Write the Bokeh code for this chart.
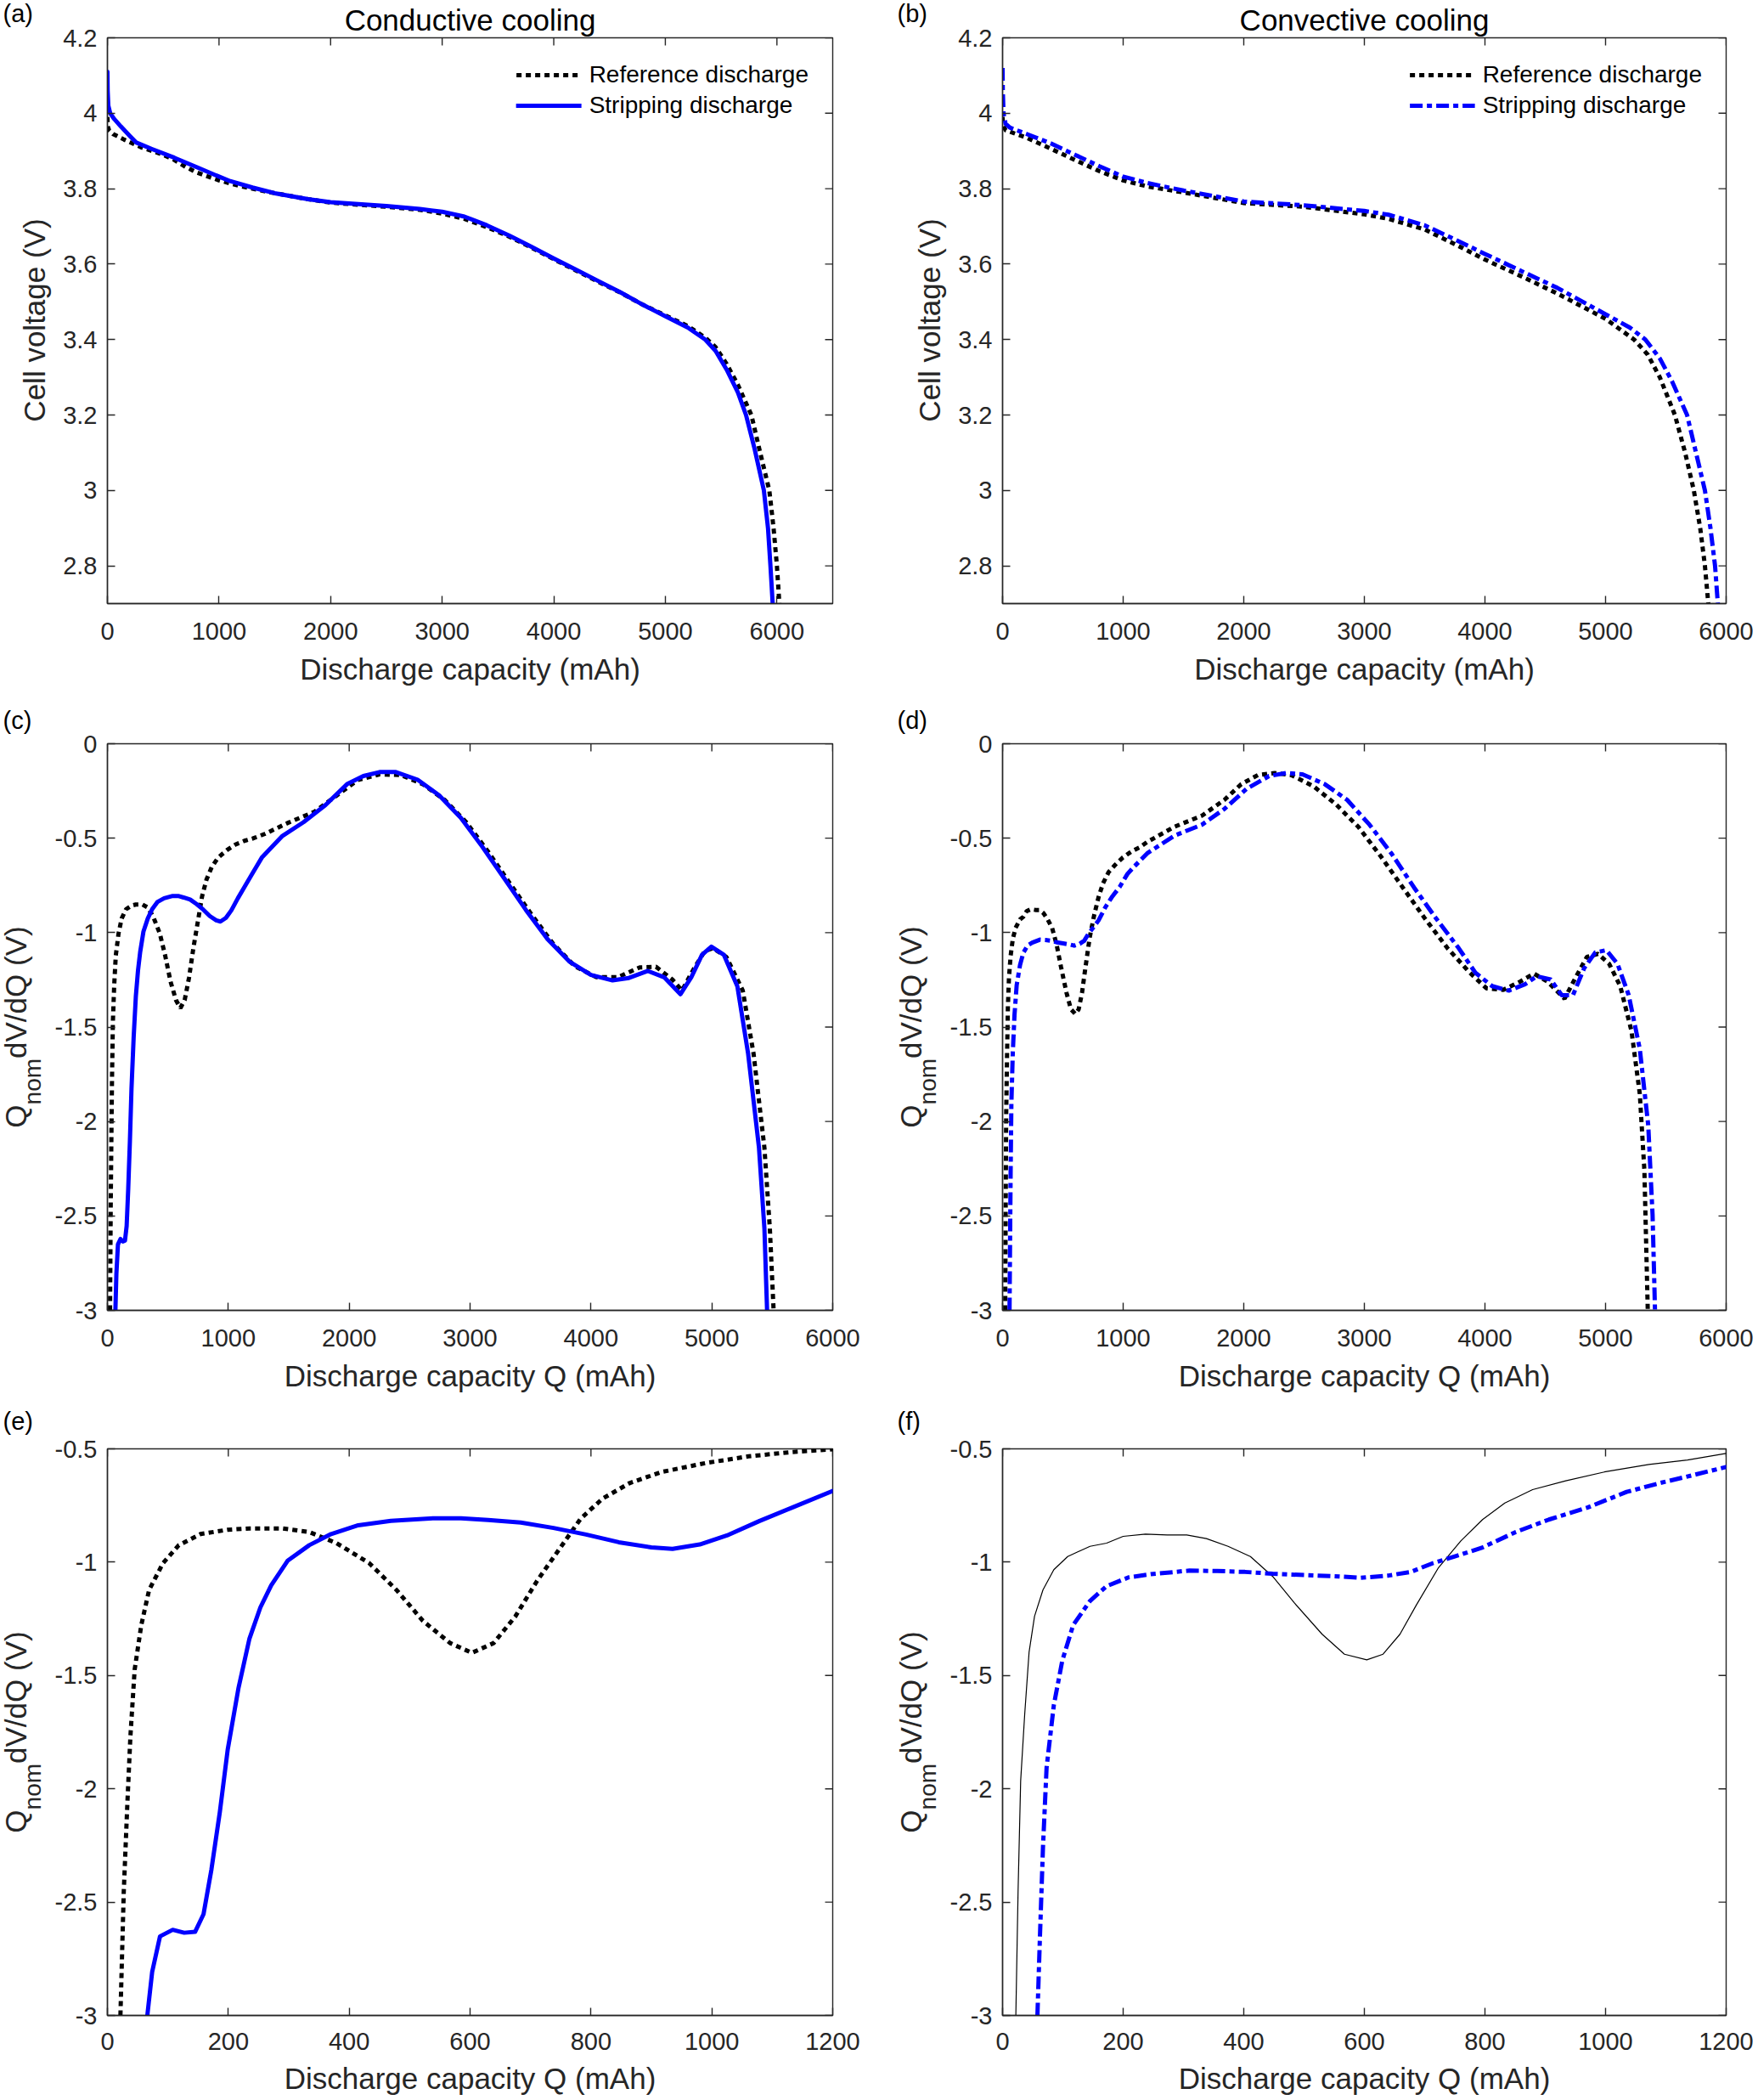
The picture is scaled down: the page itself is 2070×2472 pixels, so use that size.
import numpy as np
from bokeh.plotting import figure
from bokeh.models import Range1d, LinearAxis, FixedTicker, Legend, LegendItem, Title
from bokeh.layouts import column, row
from bokeh.core.properties import value
from bokeh.embed import file_html
from bokeh.resources import INLINE

# ---------------- data ----------------
# (a) conductive cooling, cell voltage vs discharge capacity
a_ref_q = [0, 3, 15, 50, 150, 300, 500, 600, 700, 800, 1000, 1200, 1500, 1800, 2000, 2500, 2800, 3000,
           3200, 3400, 3600, 3800, 4000, 4200, 4400, 4600, 4800, 5000, 5200, 5358, 5450, 5550, 5650, 5771,
           5850, 5932, 5970, 6000, 6022]
a_ref_v = [3.99, 3.965, 3.955, 3.945, 3.93, 3.91, 3.89, 3.876, 3.858, 3.843, 3.822, 3.806, 3.788, 3.772,
           3.763, 3.752, 3.744, 3.734, 3.72, 3.698, 3.673, 3.644, 3.613, 3.583, 3.553, 3.524, 3.492, 3.464,
           3.436, 3.405, 3.38, 3.335, 3.28, 3.2, 3.1, 3.0, 2.9, 2.8, 2.70]
a_str_q = [0, 2, 8, 25, 60, 120, 200, 260, 400, 600, 800, 1000, 1100, 1300, 1500, 1800, 2000, 2500, 2800,
           3000, 3200, 3400, 3600, 3800, 4000, 4200, 4400, 4600, 4800, 5000, 5200, 5358, 5450, 5550, 5650,
           5723, 5800, 5883, 5920, 5942, 5962]
a_str_v = [4.11, 4.06, 4.02, 4.0, 3.985, 3.965, 3.94, 3.922, 3.905, 3.882, 3.857, 3.832, 3.82, 3.803, 3.788,
           3.772, 3.764, 3.754, 3.746, 3.739, 3.726, 3.703, 3.676, 3.646, 3.615, 3.585, 3.555, 3.525, 3.492,
           3.462, 3.432, 3.40, 3.37, 3.32, 3.26, 3.2, 3.11, 3.0, 2.9, 2.8, 2.70]

# (b) convective cooling, cell voltage vs discharge capacity
b_ref_q = [0, 3, 25, 200, 400, 600, 800, 1000, 1200, 1500, 2000, 2500, 3000, 3200, 3500, 3800, 4000, 4300,
           4600, 5000, 5237, 5350, 5450, 5575, 5660, 5732, 5785, 5824, 5852]
b_ref_v = [3.99, 3.97, 3.955, 3.935, 3.906, 3.876, 3.847, 3.822, 3.806, 3.79, 3.762, 3.752, 3.732, 3.72,
           3.692, 3.645, 3.612, 3.568, 3.522, 3.455, 3.40, 3.36, 3.30, 3.2, 3.1, 3.0, 2.9, 2.8, 2.70]
b_str_q = [0, 2, 8, 25, 60, 200, 400, 600, 800, 1000, 1200, 1500, 2000, 2500, 3000, 3200, 3500, 3800, 4000,
           4300, 4600, 5000, 5200, 5330, 5450, 5550, 5676, 5750, 5824, 5870, 5908, 5931]
b_str_v = [4.12, 4.06, 4.0, 3.972, 3.962, 3.945, 3.92, 3.89, 3.86, 3.832, 3.815, 3.795, 3.766, 3.756, 3.741,
           3.731, 3.703, 3.658, 3.627, 3.582, 3.537, 3.467, 3.432, 3.40, 3.35, 3.29, 3.2, 3.1, 3.0, 2.9, 2.8,
           2.70]

# (c)/(e) conductive cooling, Q_nom dV/dQ vs discharge capacity
cond_ref_q = [21.5, 27, 33, 38, 45, 56, 69, 92, 118, 154, 199, 235, 289, 334, 379, 433, 478, 522, 567, 603,
              639, 675, 711, 747, 783, 819, 864, 917, 989, 1061, 1133, 1200, 1300, 1489, 1713, 1892, 2072,
              2251, 2430, 2610, 2789, 2969, 3148, 3327, 3507, 3686, 3865, 4045, 4224, 4404, 4538, 4673, 4753,
              4852, 4942, 5009, 5121, 5256, 5345, 5435, 5480, 5511]
cond_ref_d = [-3.0, -2.455, -2.063, -1.769, -1.475, -1.278, -1.122, -1.004, -0.925, -0.876, -0.857, -0.851,
              -0.851, -0.867, -0.916, -1.004, -1.122, -1.259, -1.357, -1.40, -1.357, -1.239, -1.082, -0.945,
              -0.808, -0.72, -0.651, -0.602, -0.563, -0.533, -0.514, -0.502, -0.478, -0.42, -0.36, -0.276,
              -0.192, -0.162, -0.166, -0.214, -0.297, -0.416, -0.57, -0.737, -0.903, -1.058, -1.177, -1.236,
              -1.236, -1.184, -1.181, -1.248, -1.307, -1.19, -1.098, -1.082, -1.129, -1.307, -1.64, -2.139,
              -2.567, -3.0]
cond_str_q = [66, 74, 87, 108, 127, 145, 159, 172, 186, 199, 217, 235, 253, 271, 298, 334, 370, 415, 469, 540,
              585, 630, 684, 738, 792, 846, 900, 935, 980, 1025, 1079, 1133, 1200, 1280, 1444, 1623, 1803,
              1982, 2117, 2251, 2386, 2565, 2744, 2924, 3103, 3283, 3462, 3641, 3821, 4000, 4179, 4314, 4471,
              4605, 4740, 4830, 4919, 4996, 5099, 5211, 5300, 5390, 5435, 5457]
cond_str_d = [-3.0, -2.808, -2.651, -2.622, -2.635, -2.631, -2.553, -2.357, -2.102, -1.827, -1.553, -1.337,
              -1.2, -1.102, -0.994, -0.925, -0.876, -0.837, -0.818, -0.806, -0.806, -0.814, -0.825, -0.849,
              -0.878, -0.912, -0.935, -0.941, -0.922, -0.882, -0.818, -0.759, -0.686, -0.6, -0.49, -0.415,
              -0.325, -0.214, -0.171, -0.15, -0.15, -0.19, -0.273, -0.392, -0.547, -0.713, -0.88, -1.034,
              -1.153, -1.224, -1.253, -1.24, -1.203, -1.236, -1.326, -1.236, -1.117, -1.074, -1.117, -1.284,
              -1.64, -2.139, -2.567, -3.0]

# (d)/(f) convective cooling, Q_nom dV/dQ vs discharge capacity
conv_ref_q = [22, 25.7, 30, 36.7, 44, 53, 67, 85, 108, 145, 172.5, 200, 237, 273, 305.5, 338, 374, 411, 448,
              484, 530, 567, 604, 631, 659, 686, 723, 760, 796, 833, 879, 934, 998, 1072, 1136, 1200, 1424,
              1655, 1840, 1979, 2117, 2256, 2395, 2580, 2765, 2950, 3135, 3319, 3504, 3689, 3874, 4013, 4152,
              4290, 4406, 4521, 4660, 4753, 4845, 4938, 5030, 5122, 5215, 5284, 5322, 5350]
conv_ref_d = [-3.0, -2.455, -1.965, -1.671, -1.396, -1.239, -1.122, -1.033, -0.975, -0.93, -0.916, -0.886,
              -0.876, -0.88, -0.88, -0.896, -0.93, -0.975, -1.063, -1.18, -1.318, -1.406, -1.431, -1.406,
              -1.318, -1.19, -1.024, -0.906, -0.812, -0.739, -0.68, -0.641, -0.602, -0.569, -0.549, -0.52,
              -0.44, -0.38, -0.297, -0.214, -0.166, -0.155, -0.166, -0.226, -0.321, -0.44, -0.595, -0.761,
              -0.927, -1.082, -1.212, -1.295, -1.303, -1.26, -1.217, -1.26, -1.35, -1.236, -1.129, -1.112,
              -1.165, -1.284, -1.521, -1.854, -2.258, -3.0]
conv_str_q = [57.8, 62, 67, 73, 85, 99, 117, 145, 172.5, 209, 246, 310, 356, 402, 448, 503, 558, 594, 640, 677,
              714, 750, 796, 851, 906, 970, 1035, 1090, 1145, 1200, 1424, 1655, 1840, 2025, 2210, 2349, 2487,
              2672, 2857, 3042, 3227, 3412, 3597, 3782, 3920, 4059, 4198, 4336, 4429, 4544, 4637, 4730, 4822,
              4915, 5007, 5099, 5192, 5284, 5354, 5390, 5410]
conv_str_d = [-3.0, -2.651, -2.259, -1.906, -1.631, -1.435, -1.278, -1.171, -1.106, -1.067, -1.053, -1.037,
              -1.039, -1.043, -1.051, -1.057, -1.063, -1.069, -1.059, -1.043, -1.004, -0.975, -0.935, -0.867,
              -0.812, -0.759, -0.69, -0.651, -0.616, -0.58, -0.487, -0.428, -0.345, -0.238, -0.171, -0.155,
              -0.162, -0.214, -0.297, -0.428, -0.583, -0.761, -0.927, -1.082, -1.212, -1.283, -1.307, -1.272,
              -1.231, -1.248, -1.331, -1.331, -1.189, -1.105, -1.093, -1.165, -1.331, -1.616, -2.02, -2.496,
              -3.0]

# ticks and texts
volt_ticks = [2.8, 3.0, 3.2, 3.4, 3.6, 3.8, 4.0, 4.2]
cap_ticks = [0, 1000, 2000, 3000, 4000, 5000, 6000]
dvdq_ticks = [-3.0, -2.5, -2.0, -1.5, -1.0, -0.5, 0.0]
zoom_cap_ticks = [0, 200, 400, 600, 800, 1000, 1200]
zoom_dvdq_ticks = [-3.0, -2.5, -2.0, -1.5, -1.0, -0.5]

titles = ["Conductive cooling", "Convective cooling"]
letters = [["(a)", "(b)"], ["(c)", "(d)"], ["(e)", "(f)"]]
legend_labels = ["Reference discharge", "Stripping discharge"]
xlabel_v = "Discharge capacity (mAh)"
xlabel_d = "Discharge capacity Q (mAh)"
ylabel_v = "Cell voltage (V)"
ylabel_d_parts = ["Q", "nom", "dV/dQ (V)"]

# ---------------- style / geometry ----------------
FONT = "Liberation Sans"
AX = "#262626"
BLUE = "#0000ff"
TICK_PX = 29
LABEL_PX = 35
SUB_PX = 28
LETTER_PX = 29
COL_W = 1035
FRAME_H = 667
ROW_H = [832, 820, 820]
FRAME_TOP = [43, 43, 53]       # top of the axes box inside each row
FRAME_L = [126, 1180]          # absolute left edge of the axes box per column
FRAME_W = [854, 852]
PLOT_LEFT = [62, 68, 68]       # room for y tick labels inside each plot, per row
LETTER_DX = [-123, -124]       # letter start, relative to the box's left edge
LETTER_DY = [28, 28, 33]       # letter centre above the box top, per row
MID = 0.36                     # distance of the text mid-line above the baseline, in em


def fmt(v):
    return f"{v:g}"


def style_axis(ax, ticks):
    ax.ticker = FixedTicker(ticks=ticks)
    ax.major_label_overrides = {t: fmt(t) for t in ticks}
    ax.axis_line_color = AX
    ax.axis_line_width = 1.4
    ax.major_tick_line_color = AX
    ax.major_tick_line_width = 1.4
    ax.major_tick_in = 9
    ax.major_tick_out = 0
    ax.minor_tick_line_color = None
    ax.major_label_text_font = FONT
    ax.major_label_text_color = AX
    ax.major_label_text_font_size = f"{TICK_PX}px"


def strip_width(r, c):
    return FRAME_L[c] - c * COL_W - PLOT_LEFT[r]


def make_panel(r, c, xr, yr, xticks, yticks, xlabel):
    height = ROW_H[r]
    width = COL_W - strip_width(r, c)
    left = PLOT_LEFT[r]
    right = width - left - FRAME_W[c]
    p = figure(width=width, height=height, x_range=Range1d(*xr), y_range=Range1d(*yr),
               output_backend="svg", toolbar_location=None, frame_align=False,
               x_axis_location=None, y_axis_location=None,
               min_border_left=left, min_border_right=right,
               min_border_top=FRAME_TOP[r], min_border_bottom=height - FRAME_TOP[r] - FRAME_H)
    p.grid.visible = False
    p.outline_line_color = AX
    p.outline_line_width = 1.4

    bottom = LinearAxis()
    style_axis(bottom, xticks)
    bottom.major_label_standoff = 22 if r < 2 else 20
    bottom.axis_label = xlabel
    bottom.axis_label_text_font = FONT
    bottom.axis_label_text_font_size = f"{LABEL_PX}px"
    bottom.axis_label_text_font_style = "normal"
    bottom.axis_label_text_color = AX
    bottom.axis_label_standoff = 12 if r < 2 else 11
    p.add_layout(bottom, "below")

    leftax = LinearAxis()
    style_axis(leftax, yticks)
    leftax.major_label_standoff = 12
    p.add_layout(leftax, "left")

    # inward ticks mirrored on the top and right edges of the box
    p.ray(x=xticks, y=[yr[1]] * len(xticks), length=9, length_units="screen", angle=-np.pi / 2,
          line_color=AX, line_width=1.4)
    p.ray(x=[xr[1]] * len(yticks), y=yticks, length=9, length_units="screen", angle=np.pi,
          line_color=AX, line_width=1.4)

    if r == 0:
        p.add_layout(Title(text=titles[c], align="center", text_font=FONT, text_font_size=f"{LABEL_PX}px",
                           text_font_style="normal", text_color="black", standoff=3), "above")
    return p


def vtext(s, x_base, y, txt, size, align):
    """Vertical text reading bottom to top; x_base is the baseline position."""
    s.text(x=[x_base - MID * size], y=[y], text=[txt], angle=np.pi / 2, text_font=value(FONT),
           text_font_size=value(f"{size}px"), text_color=AX,
           text_align=value(align), text_baseline=value("middle"))


def side_strip(r, c):
    """Narrow canvas left of each panel holding the panel letter and the y label."""
    width = strip_width(r, c)
    height = ROW_H[r]
    s = figure(width=width, height=height, x_range=Range1d(0, width), y_range=Range1d(0, height),
               output_backend="svg", toolbar_location=None, frame_align=False,
               x_axis_location=None, y_axis_location=None,
               min_border=0, min_border_left=0, min_border_right=0, min_border_top=0, min_border_bottom=0)
    s.grid.visible = False
    s.outline_line_color = None

    box_left = width + PLOT_LEFT[r]            # box left edge in strip coordinates
    box_top = height - FRAME_TOP[r]
    centre = box_top - FRAME_H / 2

    s.text(x=[box_left + LETTER_DX[c]], y=[box_top + LETTER_DY[r]], text=[letters[r][c]],
           text_font=value(FONT), text_font_size=value(f"{LETTER_PX}px"), text_color="black",
           text_align=value("left"), text_baseline=value("middle"))

    if r == 0:
        vtext(s, box_left - 73, centre, ylabel_v, LABEL_PX, "center")
    else:
        # "Q" + subscript "nom" + "dV/dQ (V)", centred on the box
        w_q = 0.778 * LABEL_PX
        w_nom = 1.945 * SUB_PX
        w_rest = 4.446 * LABEL_PX
        y0 = centre - (w_q + w_nom + w_rest) / 2
        base_x = box_left - 95
        vtext(s, base_x, y0, ylabel_d_parts[0], LABEL_PX, "left")
        vtext(s, base_x + 17, y0 + w_q, ylabel_d_parts[1], SUB_PX, "left")
        vtext(s, base_x, y0 + w_q + w_nom, ylabel_d_parts[2], LABEL_PX, "left")
    return s


def ref_line(p, q, y, thin=False):
    if thin:
        return p.line(q, y, line_color="black", line_width=1.2)
    return p.line(q, y, line_color="black", line_width=5, line_dash="6 5", line_cap="butt")


def strip_line(p, q, y, dashdot=False):
    if dashdot:
        return p.line(q, y, line_color=BLUE, line_width=5, line_dash="15 5 6 5", line_join="round")
    return p.line(q, y, line_color=BLUE, line_width=5, line_join="round", line_cap="round")


def add_legend(p, r_ref, r_str):
    leg = Legend(items=[LegendItem(label=legend_labels[0], renderers=[r_ref]),
                        LegendItem(label=legend_labels[1], renderers=[r_str])],
                 location="top_right", border_line_color=None, background_fill_alpha=0,
                 label_text_font=FONT, label_text_font_size=f"{TICK_PX - 1}px", label_text_color="black",
                 glyph_width=77, glyph_height=30, label_height=30, label_standoff=9, spacing=4,
                 padding=8, margin=28)
    p.add_layout(leg)


# (a)
pa = make_panel(0, 0, (0, 6500), (2.7, 4.2), cap_ticks, volt_ticks, xlabel_v)
ra = ref_line(pa, a_ref_q, a_ref_v)
sa = strip_line(pa, a_str_q, a_str_v)
add_legend(pa, ra, sa)

# (b)
pb = make_panel(0, 1, (0, 6000), (2.7, 4.2), cap_ticks, volt_ticks, xlabel_v)
rb = ref_line(pb, b_ref_q, b_ref_v)
sb = strip_line(pb, b_str_q, b_str_v, dashdot=True)
add_legend(pb, rb, sb)

# (c)
pc = make_panel(1, 0, (0, 6000), (-3, 0), cap_ticks, dvdq_ticks, xlabel_d)
ref_line(pc, cond_ref_q, cond_ref_d)
strip_line(pc, cond_str_q, cond_str_d)

# (d)
pd_ = make_panel(1, 1, (0, 6000), (-3, 0), cap_ticks, dvdq_ticks, xlabel_d)
ref_line(pd_, conv_ref_q, conv_ref_d)
strip_line(pd_, conv_str_q, conv_str_d, dashdot=True)

# (e)
pe = make_panel(2, 0, (0, 1200), (-3, -0.5), zoom_cap_ticks, zoom_dvdq_ticks, xlabel_d)
ref_line(pe, cond_ref_q, cond_ref_d)
strip_line(pe, cond_str_q, cond_str_d)

# (f)
pf = make_panel(2, 1, (0, 1200), (-3, -0.5), zoom_cap_ticks, zoom_dvdq_ticks, xlabel_d)
ref_line(pf, conv_ref_q, conv_ref_d, thin=True)
strip_line(pf, conv_str_q, conv_str_d, dashdot=True)

layout = column(
    row(side_strip(0, 0), pa, side_strip(0, 1), pb),
    row(side_strip(1, 0), pc, side_strip(1, 1), pd_),
    row(side_strip(2, 0), pe, side_strip(2, 1), pf),
)
open("out.html", "w").write(file_html(layout, INLINE))
